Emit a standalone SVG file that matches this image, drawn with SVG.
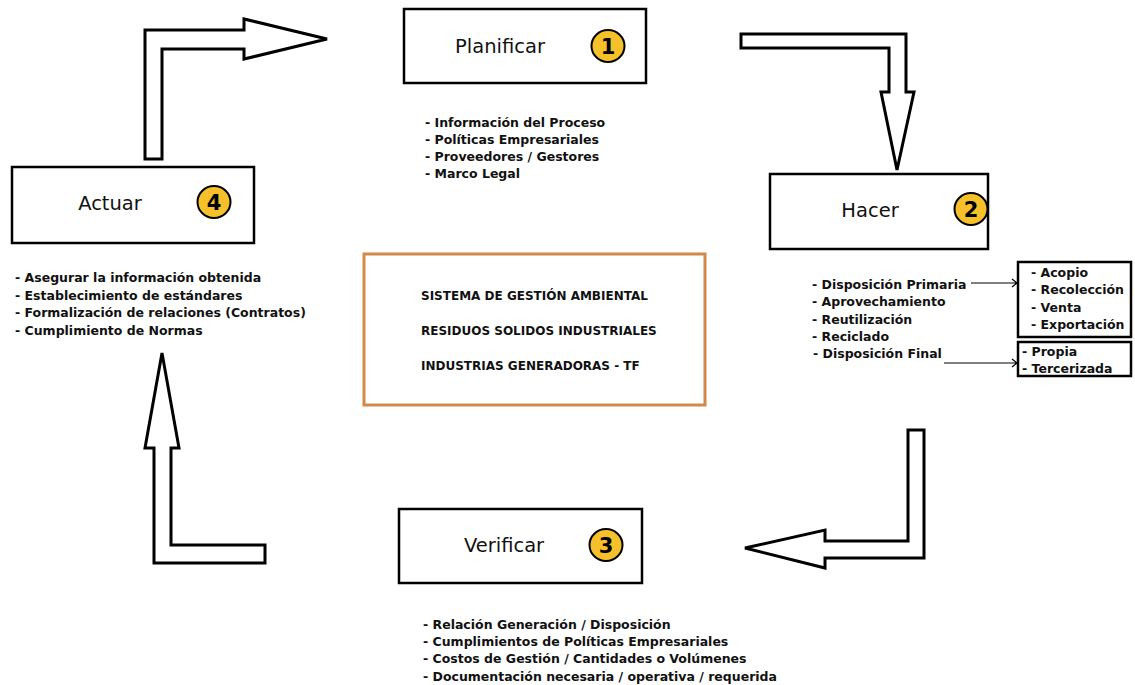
<svg xmlns="http://www.w3.org/2000/svg" width="1135" height="685" viewBox="0 0 1135 685">
<style>
.box{fill:#fff;stroke:#000;stroke-width:2.5}
.arr{fill:#fff;stroke:#000;stroke-width:3;stroke-linejoin:miter}
.title{font-family:"DejaVu Sans",sans-serif;font-size:19.5px;fill:#111;text-anchor:middle}
.num{fill:#F5C02A;stroke:#000;stroke-width:2}
.numt{font-family:"DejaVu Sans",sans-serif;font-weight:bold;font-size:21px;fill:#000;text-anchor:middle}
.list{font-family:"DejaVu Sans",sans-serif;font-weight:bold;font-size:12.5px;fill:#111}
.ctr{font-family:"DejaVu Sans",sans-serif;font-weight:bold;font-size:12px;fill:#111}
.thin{fill:none;stroke:#000;stroke-width:1.2}
</style>
<rect width="1135" height="685" fill="#fff"/>
<g id="connectors">
<polygon class="arr" points="145,159 145,30 244,30 244,19 327,39 244,59 244,49 162,49 162,159"/>
<polygon class="arr" points="741,34 906,34 906,92 914,92 897,170 881,92 889,92 889,48 741,48"/>
<polygon class="arr" points="908,430 924,430 924,558 825,558 825,568 745,548 825,530 825,541 908,541"/>
<polygon class="arr" points="162,353 179,448 171,448 171,545 265,545 265,563 154,563 154,448 145,448"/>
<path class="thin" d="M971,283 H1017 M1012,279 L1017,283 L1012,287"/>
<path class="thin" d="M944,363 H1017 M1012,359 L1017,363 L1012,367"/>
</g>
<g id="planificar">
<rect class="box" x="404" y="9" width="242" height="74"/>
<text class="title" x="500" y="53">Planificar</text>
<ellipse class="num" cx="608" cy="46" rx="16.5" ry="16"/>
<text class="numt" x="608" y="54">1</text>
<text class="list" x="425" y="127">- Información del Proceso</text>
<text class="list" x="425" y="144">- Políticas Empresariales</text>
<text class="list" x="425" y="161">- Proveedores / Gestores</text>
<text class="list" x="425" y="178">- Marco Legal</text>
</g>
<g id="hacer">
<rect class="box" x="770" y="174" width="218" height="75"/>
<text class="title" x="870" y="217">Hacer</text>
<ellipse class="num" cx="971" cy="209" rx="16.5" ry="16"/>
<text class="numt" x="971" y="217">2</text>
<text class="list" x="812" y="289">- Disposición Primaria</text>
<text class="list" x="812" y="306">- Aprovechamiento</text>
<text class="list" x="812" y="324">- Reutilización</text>
<text class="list" x="812" y="341">- Reciclado</text>
<text class="list" x="813" y="358">- Disposición Final</text>
</g>
<g id="primaria-sub">
<rect class="box" x="1018" y="262" width="113" height="75" stroke-width="1.5"/>
<text class="list" x="1031" y="277">- Acopio</text>
<text class="list" x="1031" y="294">- Recolección</text>
<text class="list" x="1031" y="312">- Venta</text>
<text class="list" x="1031" y="329">- Exportación</text>
</g>
<g id="final-sub">
<rect class="box" x="1018" y="342" width="113" height="34" stroke-width="1.5"/>
<text class="list" x="1022" y="356">- Propia</text>
<text class="list" x="1022" y="373">- Tercerizada</text>
</g>
<g id="verificar">
<rect class="box" x="399" y="509" width="243" height="74"/>
<text class="title" x="504" y="552">Verificar</text>
<ellipse class="num" cx="606" cy="545" rx="16.5" ry="16"/>
<text class="numt" x="606" y="553">3</text>
<text class="list" x="423" y="629">- Relación Generación / Disposición</text>
<text class="list" x="423" y="646">- Cumplimientos de Políticas Empresariales</text>
<text class="list" x="423" y="663">- Costos de Gestión / Cantidades o Volúmenes</text>
<text class="list" x="423" y="681">- Documentación necesaria / operativa / requerida</text>
</g>
<g id="actuar">
<rect class="box" x="12" y="167" width="242" height="76"/>
<text class="title" x="110" y="210">Actuar</text>
<ellipse class="num" cx="214" cy="202" rx="16.5" ry="16"/>
<text class="numt" x="214" y="210">4</text>
<text class="list" x="15" y="282">- Asegurar la información obtenida</text>
<text class="list" x="15" y="300">- Establecimiento de estándares</text>
<text class="list" x="15" y="317">- Formalización de relaciones (Contratos)</text>
<text class="list" x="15" y="335">- Cumplimiento de Normas</text>
</g>
<g id="centro">
<rect x="364" y="254" width="341" height="151" fill="#fff" stroke="#D2894A" stroke-width="3"/>
<text class="ctr" x="421" y="300">SISTEMA DE GESTIÓN AMBIENTAL</text>
<text class="ctr" x="421" y="335">RESIDUOS SOLIDOS INDUSTRIALES</text>
<text class="ctr" x="421" y="370">INDUSTRIAS GENERADORAS - TF</text>
</g>
</svg>
